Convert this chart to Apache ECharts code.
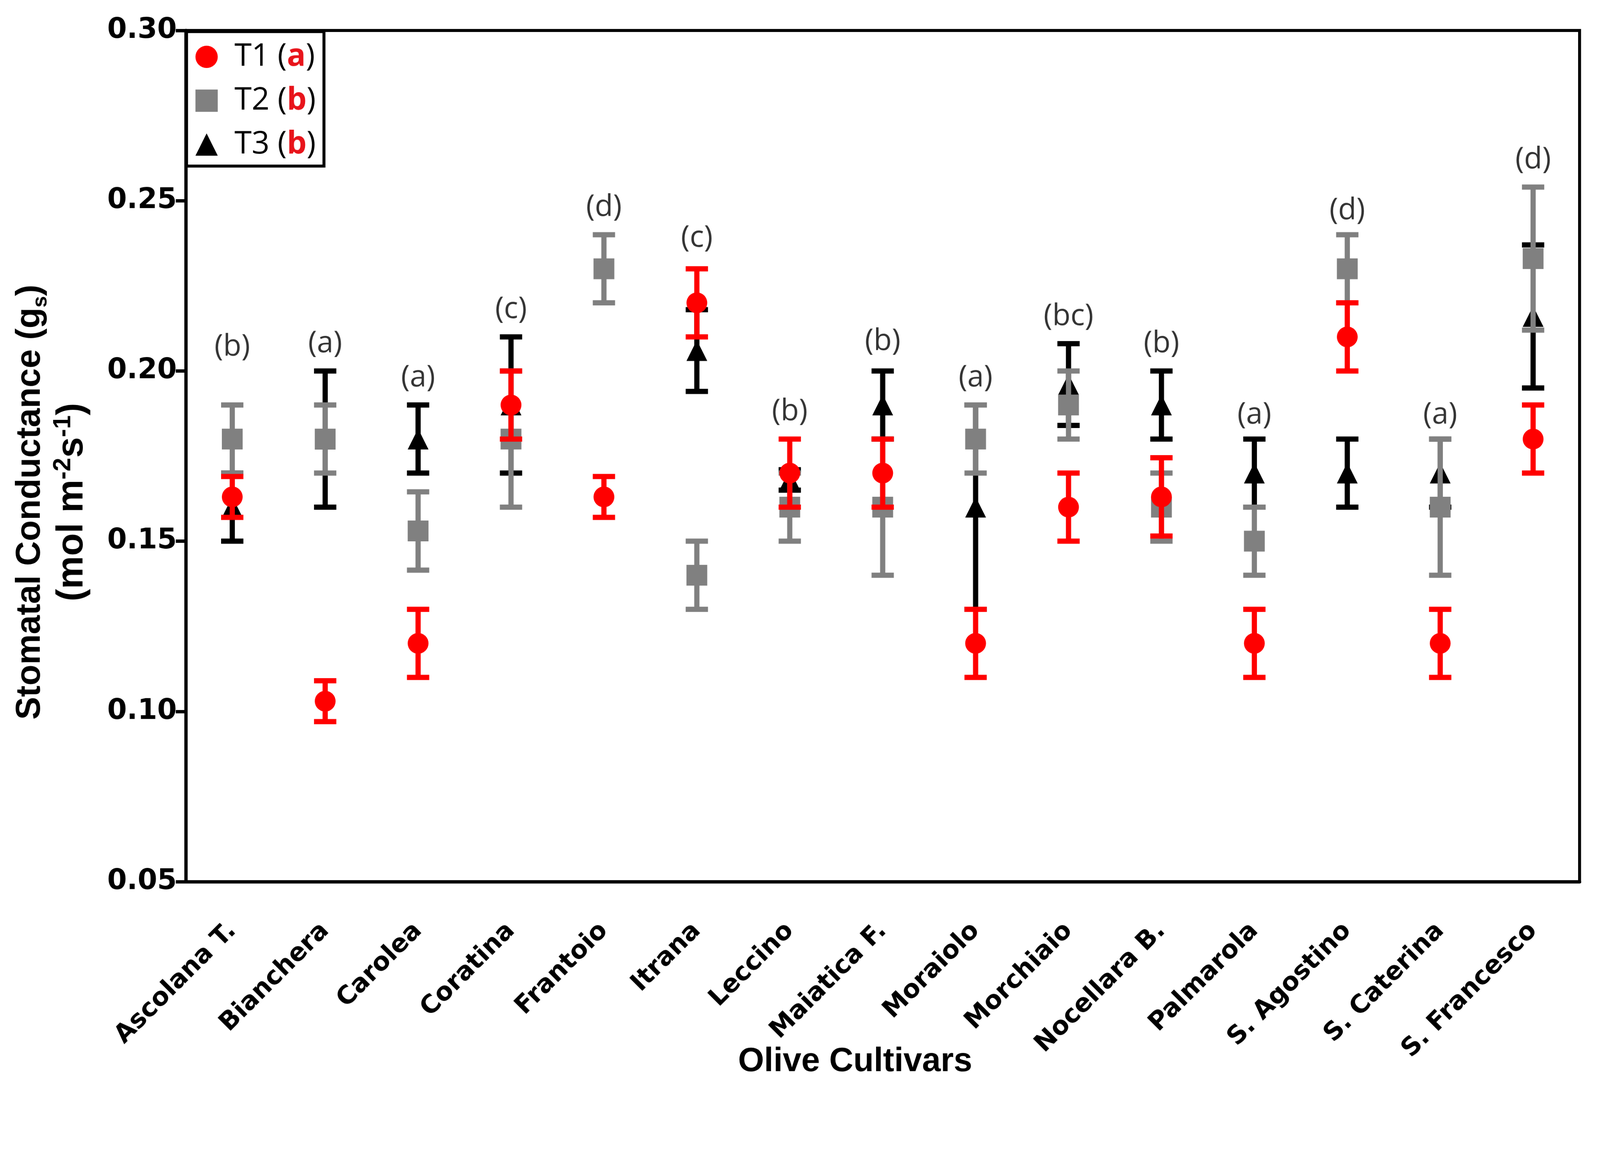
<!DOCTYPE html>
<html>
<head>
<meta charset="utf-8">
<script src="https://cdn.jsdelivr.net/npm/echarts@6/dist/echarts.min.js"></script>
<style>
  html, body { margin: 0; padding: 0; background: #fff; overflow: hidden; }
  #chart { width: 4306px; height: 2952px; transform-origin: 0 0; }
</style>
</head>
<body>
<div id="chart"></div>
<script>
// data
var cultivars = ['Ascolana T.', 'Bianchera', 'Carolea', 'Coratina', 'Frantoio', 'Itrana', 'Leccino',
    'Maiatica F.', 'Moraiolo', 'Morchiaio', 'Nocellara B.', 'Palmarola', 'S. Agostino', 'S. Caterina', 'S. Francesco'];

var t1Mean = [0.163, 0.103, 0.12, 0.19, 0.163, 0.22, 0.17, 0.17, 0.12, 0.16, 0.163, 0.12, 0.21, 0.12, 0.18];
var t1Err  = [0.006, 0.006, 0.01, 0.01, 0.006, 0.01, 0.01, 0.01, 0.01, 0.01, 0.0115, 0.01, 0.01, 0.01, 0.01];
var t2Mean = [0.18, 0.18, 0.153, 0.18, 0.23, 0.14, 0.16, 0.16, 0.18, 0.19, 0.16, 0.15, 0.23, 0.16, 0.233];
var t2Err  = [0.01, 0.01, 0.0115, 0.02, 0.01, 0.01, 0.01, 0.02, 0.01, 0.01, 0.01, 0.01, 0.01, 0.02, 0.021];
var t3Mean = [0.16, 0.18, 0.18, 0.19, null, 0.206, 0.168, 0.19, 0.16, 0.196, 0.19, 0.17, 0.17, 0.17, 0.216];
var t3Err  = [0.01, 0.02, 0.01, 0.02, null, 0.012, 0.003, 0.01, 0.03, 0.012, 0.01, 0.01, 0.01, 0.01, 0.021];

var groupLetters = ['(b)', '(a)', '(a)', '(c)', '(d)', '(c)', '(b)', '(b)', '(a)', '(bc)', '(b)', '(a)', '(d)', '(a)', '(d)'];
var letterY = [0.207, 0.208, 0.198, 0.218, 0.248, 0.239, 0.188, 0.2086, 0.198, 0.216, 0.208, 0.187, 0.247, 0.187, 0.262];

var treatments = ['T1', 'T2', 'T3'];
var treatmentLetters = ['a', 'b', 'b'];
var yTicks = [0.05, 0.10, 0.15, 0.20, 0.25, 0.30];

var RED = '#ff0000', GREY = '#808080', BLACK = '#000000';

// fit the fixed-size chart into whatever viewport we get
var el = document.getElementById('chart');
var fit = Math.min(window.innerWidth / 4306, window.innerHeight / 2952);
if (fit < 1) el.style.transform = 'scale(' + fit + ')';

var mychart = echarts.init(el, null, { renderer: 'canvas' });

function pts(mean) {
    var out = [];
    for (var i = 0; i < mean.length; i++) {
        if (mean[i] != null) out.push([i, mean[i]]);
    }
    return out;
}
function bars(mean, err) {
    var out = [];
    for (var i = 0; i < mean.length; i++) {
        if (mean[i] != null) out.push([i, mean[i], mean[i] - err[i], mean[i] + err[i]]);
    }
    return out;
}
// error bar drawn through the axes
function errBar(color) {
    return function (params, api) {
        var lo = api.coord([api.value(0), api.value(2)]);
        var hi = api.coord([api.value(0), api.value(3)]);
        var x = lo[0], w = 30;
        var st = { stroke: color, lineWidth: 14 };
        return {
            type: 'group',
            children: [
                { type: 'line', shape: { x1: x, y1: hi[1], x2: x, y2: lo[1] }, style: st },
                { type: 'line', shape: { x1: x - w, y1: hi[1], x2: x + w, y2: hi[1] }, style: st },
                { type: 'line', shape: { x1: x - w, y1: lo[1], x2: x + w, y2: lo[1] }, style: st }
            ]
        };
    };
}

var letterData = [];
for (var i = 0; i < cultivars.length; i++) letterData.push([i, letterY[i], groupLetters[i]]);

option = {
    animation: false,
    backgroundColor: '#fff',
    grid: {
        left: 500, right: 55, top: 82, bottom: 579,
        outerBoundsMode: 'none',
        show: true, borderColor: '#000', borderWidth: 8
    },
    legend: {
        left: 502, top: 85,
        orient: 'vertical',
        data: [
            { name: 'T1', icon: 'circle' },
            { name: 'T2', icon: 'rect' },
            { name: 'T3', icon: 'triangle' }
        ],
        itemWidth: 60, itemHeight: 60, itemGap: 34,
        padding: [26, 22, 16, 24],
        borderColor: '#000', borderWidth: 8,
        selectedMode: false,
        formatter: function (name) {
            return name + ' ({r|' + treatmentLetters[treatments.indexOf(name)] + '})';
        },
        textStyle: {
            fontFamily: 'Open Sans', fontSize: 84, color: '#000',
            padding: [0, 0, 0, 40],
            rich: {
                r: { fontFamily: 'Open Sans', fontSize: 84, fontWeight: 'bold', color: '#e8141b' }
            }
        }
    },
    xAxis: {
        type: 'category',
        data: cultivars,
        name: 'Olive Cultivars',
        nameLocation: 'middle',
        nameGap: 440,
        nameMoveOverlap: false,
        nameTextStyle: {
            fontFamily: 'Liberation Sans', fontWeight: 'bold', fontSize: 90, color: '#000',
            padding: [0, 148, 0, 0]
        },
        axisLine: { lineStyle: { color: '#000', width: 9 } },
        axisTick: { alignWithLabel: true, length: 27, lineStyle: { color: '#000', width: 9 } },
        axisLabel: {
            rotate: 45, margin: 122, interval: 0,
            fontFamily: 'DejaVu Sans', fontWeight: 'bold', fontSize: 68, color: '#000'
        },
        splitLine: { show: false }
    },
    yAxis: {
        type: 'value',
        min: yTicks[0], max: yTicks[yTicks.length - 1], interval: 0.05,
        name: '{t|Stomatal Conductance (g}{sub|s}{t|)}\n{t2|(mol m}{sup|-2}{t2|s}{sup|-1}{t2|)}',
        nameLocation: 'middle',
        nameRotate: 90,
        nameGap: 250,
        nameMoveOverlap: false,
        nameTextStyle: {
            align: 'center',
            padding: [0, 248, 0, 0],
            rich: {
                t: { fontFamily: 'Liberation Sans', fontWeight: 'bold', fontSize: 92, color: '#000', lineHeight: 112 },
                t2: { fontFamily: 'Liberation Sans', fontWeight: 'bold', fontSize: 100, color: '#000', lineHeight: 112 },
                sub: { fontFamily: 'Liberation Sans', fontWeight: 'bold', fontSize: 56, color: '#000', lineHeight: 112, verticalAlign: 'bottom' },
                sup: { fontFamily: 'Liberation Sans', fontWeight: 'bold', fontSize: 66, color: '#000', lineHeight: 112, verticalAlign: 'top' }
            }
        },
        axisLine: { show: true, lineStyle: { color: '#000', width: 9 } },
        axisTick: { show: true, length: 27, lineStyle: { color: '#000', width: 9 } },
        axisLabel: {
            margin: 24,
            fontFamily: 'DejaVu Sans', fontWeight: 'bold', fontSize: 76, color: '#000',
            formatter: function (v) { return v.toFixed(2); }
        },
        splitLine: { show: false }
    },
    series: [
        { name: 'T3bar', type: 'custom', renderItem: errBar(BLACK), data: bars(t3Mean, t3Err), z: 2 },
        { name: 'T3', type: 'scatter', symbol: 'triangle', symbolSize: 56, itemStyle: { color: BLACK, opacity: 1 }, data: pts(t3Mean), z: 3 },
        { name: 'T2bar', type: 'custom', renderItem: errBar(GREY), data: bars(t2Mean, t2Err), z: 4 },
        { name: 'T2', type: 'scatter', symbol: 'rect', symbolSize: 56, itemStyle: { color: GREY, opacity: 1 }, data: pts(t2Mean), z: 5 },
        { name: 'T1bar', type: 'custom', renderItem: errBar(RED), data: bars(t1Mean, t1Err), z: 6 },
        { name: 'T1', type: 'scatter', symbol: 'circle', symbolSize: 56, itemStyle: { color: RED, opacity: 1 }, data: pts(t1Mean), z: 7 },
        {
            name: 'letters', type: 'scatter', symbolSize: 0, z: 8,
            data: letterData,
            label: {
                show: true, position: 'inside',
                formatter: function (p) { return p.value[2]; },
                fontFamily: 'Open Sans', fontSize: 80, color: '#000'
            }
        }
    ]
};

mychart.setOption(option);
</script>
</body>
</html>
